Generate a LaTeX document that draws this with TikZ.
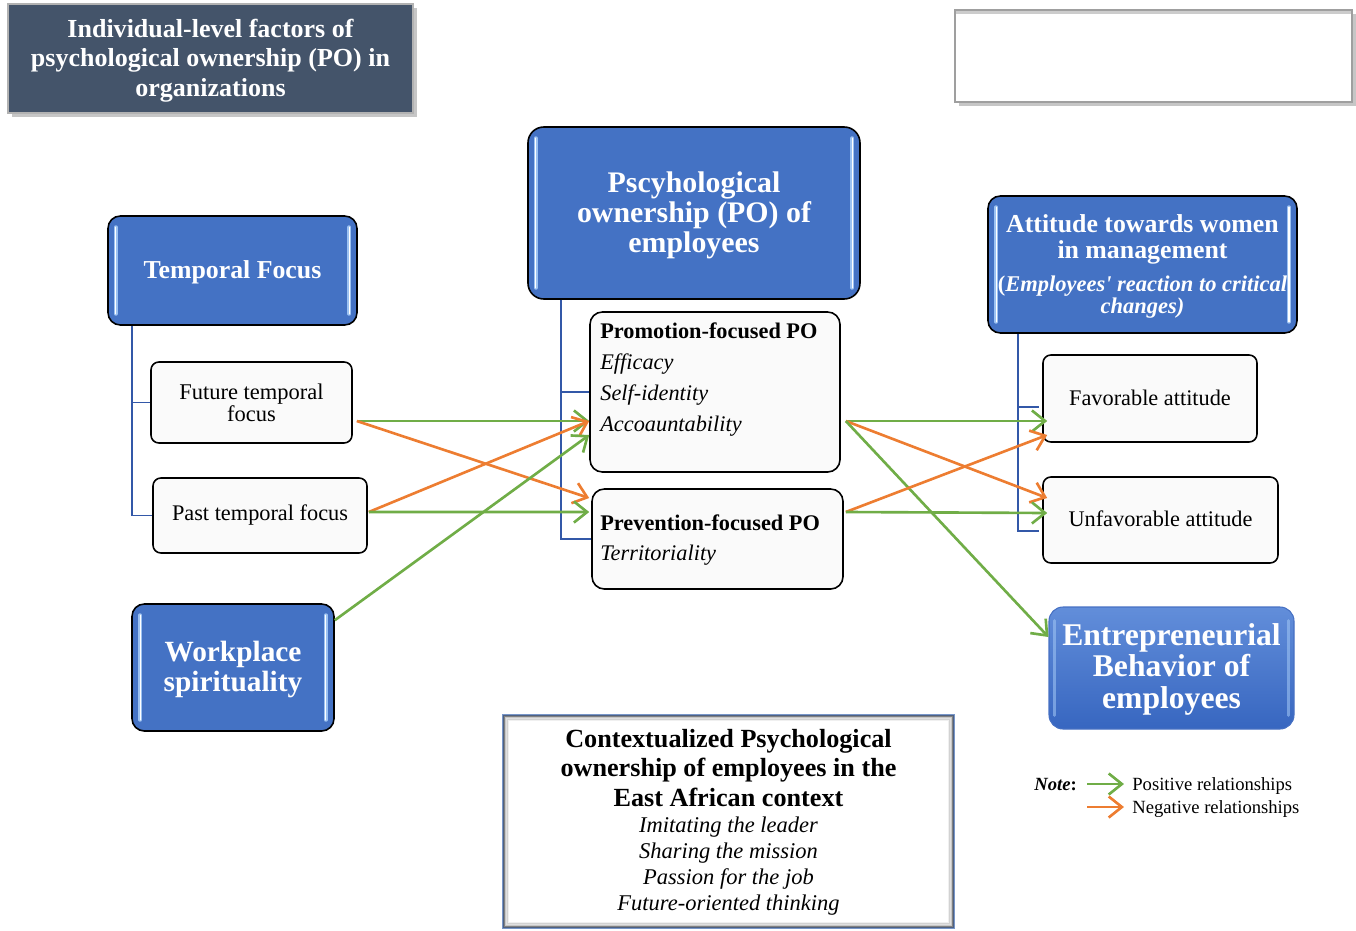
\documentclass[tikz,border=0pt]{standalone}
\usepackage{fontspec}
\setmainfont{Liberation Serif}
\usetikzlibrary{arrows.meta,shadows,fit,calc}
\definecolor{tblue}{HTML}{4472C4}
\definecolor{tslate}{HTML}{44546A}
\definecolor{tgreen}{HTML}{70AD47}
\definecolor{torange}{HTML}{ED7D31}
\definecolor{tline}{HTML}{3358A8}
\definecolor{hlout}{HTML}{9CC2F2}
\definecolor{offwhite}{HTML}{FAFAFA}
\newcommand\glossy[2]{%
  \draw[hlo] ($(#1.north west)+(#2,12)$) -- ($(#1.south west)+(#2,-12)$);
  \draw[hli] ($(#1.north west)+(#2,12)$) -- ($(#1.south west)+(#2,-12)$);
  \draw[hlo] ($(#1.north east)+(-#2,12)$) -- ($(#1.south east)+(-#2,-12)$);
  \draw[hli] ($(#1.north east)+(-#2,12)$) -- ($(#1.south east)+(-#2,-12)$);}
\begin{document}
\begin{tikzpicture}[x=0.02cm,y=-0.02cm,
  bluebox/.style={draw=black, line width=0.9pt, fill=tblue, rounded corners=7pt, inner sep=0pt},
  whitebox/.style={draw=black, line width=0.9pt, fill=offwhite, rounded corners=4.5pt, inner sep=0pt},
  hlo/.style={draw=hlout, line width=2.2pt, line cap=round},
  hli/.style={draw=white, line width=0.8pt, line cap=round},
  wtxt/.style={text=white, font=\bfseries, align=center, inner sep=0pt, yshift=-1.2pt},
  btxt/.style={text=black, align=center, inner sep=0pt},
  tree/.style={draw=tline, line width=1.1pt},
  posarr/.style={draw=tgreen, line width=1.5pt, -{Straight Barb[length=7.5pt,width=12pt,line width=1.5pt]}},
  negarr/.style={draw=torange, line width=1.5pt, -{Straight Barb[length=7.5pt,width=12pt,line width=1.5pt]}}]
\useasboundingbox (0,0) rectangle (1356,930);

% title box
\node[fill=tslate, draw=gray!60, line width=0.8pt, inner sep=0pt,
      drop shadow={shadow xshift=2pt, shadow yshift=-2pt, opacity=0.45},
      fit={(8,4) (413,113)}] (title) {};
\node[wtxt, font=\bfseries\fontsize{14.8}{17}\selectfont] (titletxt) at (title.center)
  {Individual-level factors of\\psychological ownership (PO) in\\organizations};

% empty box
\node[fill=white, draw=gray!75, line width=1pt, inner sep=0pt,
      drop shadow={shadow xshift=2pt, shadow yshift=-2pt, opacity=0.45},
      fit={(955,10) (1352,102)}] (empty) {};
\draw[gray!40, line width=1.6pt] ($(empty.north west)+(2,3.5)$) -- ($(empty.north east)+(-2,3.5)$);

% left column
\node[bluebox, fit={(108,216) (357,325)}] (tf) {};
\glossy{tf}{8.5}
\node[wtxt, font=\bfseries\fontsize{14.7}{17}\selectfont] (tftxt) at (tf.center) {Temporal Focus};

\node[whitebox, fit={(151,362) (352,443)}] (fut) {};
\node[btxt, font=\fontsize{12.8}{12.5}\selectfont] (futtxt) at (fut.center) {Future temporal\\focus};

\node[whitebox, fit={(153,478) (367,553)}] (past) {};
\node[btxt, font=\fontsize{12.7}{12.5}\selectfont] (pasttxt) at (past.center) {Past temporal focus};

\node[bluebox, fit={(132,604) (334,731)}] (ws) {};
\glossy{ws}{9}
\node[wtxt, font=\bfseries\fontsize{16.7}{17}\selectfont] (wstxt) at (ws.center) {Workplace\\spirituality};

% middle column
\node[bluebox, rounded corners=9pt, fit={(528,127) (860,299)}] (po) {};
\glossy{po}{8.5}
\node[wtxt, font=\bfseries\fontsize{17}{17}\selectfont] (potxt) at (po.center) {Pscyhological\\ownership (PO) of\\employees};

\node[whitebox, rounded corners=7pt, fit={(590,312) (840,472)}] (prom) {};
\node[anchor=base west, inner sep=0pt, font=\bfseries\fontsize{12.7}{13}\selectfont] (prom1) at (600,338) {Promotion-focused PO};
\node[anchor=base west, inner sep=0pt, font=\itshape\fontsize{12.7}{13}\selectfont] (prom2) at (600,369) {Efficacy};
\node[anchor=base west, inner sep=0pt, font=\itshape\fontsize{12.7}{13}\selectfont] (prom3) at (600,400) {Self-identity};
\node[anchor=base west, inner sep=0pt, font=\itshape\fontsize{12.7}{13}\selectfont] (prom4) at (600,431) {Accoauntability};

\node[whitebox, rounded corners=7pt, fit={(592,489) (843,589)}] (prev) {};
\node[anchor=base west, inner sep=0pt, font=\bfseries\fontsize{12.7}{13}\selectfont] (prev1) at (600,530) {Prevention-focused PO};
\node[anchor=base west, inner sep=0pt, font=\itshape\fontsize{12.7}{13}\selectfont] (prev2) at (600,560) {Territoriality};

% contextualized box
\node[fill=white, draw={rgb,255:red,120;green,150;blue,200}, line width=1pt, inner sep=0pt,
      fit={(503,715) (954,928)}] (ctx) {};
\foreach \i/\o in {1.5/0.35,3/0.22,4.5/0.12,6/0.06}{
  \draw[black, opacity=\o, line width=1.2pt] ($(ctx.north west)+(\i,\i)$) rectangle ($(ctx.south east)+(-\i,-\i)$);}
\node[btxt, font=\bfseries\fontsize{14.9}{17}\selectfont] (ctx1) at (728.5,768) {Contextualized Psychological\\ownership of employees in the\\East African context};
\node[btxt, font=\itshape\fontsize{12.8}{14.7}\selectfont] (ctx2) at (728.5,866) {Imitating the leader\\Sharing the mission\\Passion for the job\\Future-oriented thinking};

% right column
\node[bluebox, fit={(988,196) (1297,333)}] (att) {};
\glossy{att}{9}
\node[wtxt, font=\bfseries\fontsize{14.7}{14.7}\selectfont] (att1) at (1142.5,237) {Attitude towards women\\in management};
\node[wtxt, font=\bfseries\itshape\fontsize{12.8}{12.5}\selectfont] (att2) at (1142.5,295) {{\upshape(}Employees\textquotesingle{} reaction to critical\\changes)};

\node[whitebox, fit={(1043,355) (1257,442)}] (fav) {};
\node[btxt, font=\fontsize{12.7}{12.5}\selectfont] (favtxt) at (1150,398) {Favorable attitude};

\node[whitebox, fit={(1043,477) (1278,563)}] (unf) {};
\node[btxt, font=\fontsize{12.7}{12.5}\selectfont] (unftxt) at (1160.5,519) {Unfavorable attitude};

\node[top color={rgb,255:red,98;green,142;blue,218}, bottom color={rgb,255:red,55;green,102;blue,192},
      draw={rgb,255:red,70;green,112;blue,195}, line width=0.6pt, rounded corners=8pt, inner sep=0pt,
      fit={(1049,607) (1294,729)}] (ent) {};
\draw[draw=hlout, opacity=0.6, line width=1.5pt, line cap=round] ($(ent.north west)+(6,14)$) -- ($(ent.south west)+(6,-14)$);
\draw[draw=hlout, opacity=0.6, line width=1.5pt, line cap=round] ($(ent.north east)+(-6,14)$) -- ($(ent.south east)+(-6,-14)$);
\node[wtxt, font=\bfseries\fontsize{18}{18}\selectfont] (enttxt) at (1171.5,667) {Entrepreneurial\\Behavior of\\employees};

% tree lines
\draw[tree] ($(tf.south west)+(25,0)$) |- (fut.west);
\draw[tree] ($(tf.south west)+(25,0)$) |- (past.west);
\draw[tree] ($(po.south west)+(34,0)$) |- (prom.west);
\draw[tree] ($(po.south west)+(34,0)$) |- (prev.west);
\draw[tree] ($(att.south west)+(31,0)$) |- ($(fav.west)+(-3,8.5)$);
\draw[tree] ($(att.south west)+(31,0)$) |- ($(unf.west)+(-3,11)$);

% arrows
\draw[posarr] ($(fut.east)+(4,18.5)$) -- ($(prom.west)+(0,29)$);
\draw[negarr] ($(fut.east)+(4,18.5)$) -- ($(prev.west)+(-2,-41)$);
\draw[negarr] ($(past.east)+(1,-3.5)$) -- ($(prom.west)+(0,29)$);
\draw[posarr] ($(past.east)+(1,-3.5)$) -- ($(prev.west)+(-2,-27)$);
\draw[posarr] ($(ws.north east)+(0,17)$) -- ($(prom.west)+(0,43)$);
\draw[posarr] ($(prom.east)+(5,29)$) -- ($(fav.west)+(5,22.5)$);
\draw[negarr] ($(prom.east)+(5,29)$) -- ($(unf.west)+(5,-22)$);
\draw[posarr] ($(prom.east)+(5,29)$) -- ($(ent.west)+(0,-31)$);
\draw[negarr] ($(prev.east)+(2,-27)$) -- ($(fav.west)+(5,36.5)$);
\draw[posarr] ($(prev.east)+(2,-27)$) -- ($(unf.west)+(5,-7)$);

% legend
\node[anchor=base west, inner sep=0pt, font=\fontsize{10.6}{11}\selectfont] (note) at (1034,790) {\textbf{\textit{Note}}\textbf{:}};
\coordinate (lg1a) at (1087,784);
\coordinate (lg1b) at (1124,784);
\coordinate (lg2a) at (1087,807);
\coordinate (lg2b) at (1124,807);
\draw[posarr] (lg1a) -- (lg1b);
\draw[negarr] (lg2a) -- (lg2b);
\node[anchor=base west, inner sep=0pt, font=\fontsize{10.6}{11}\selectfont] (lgp) at (1132,790) {Positive relationships};
\node[anchor=base west, inner sep=0pt, font=\fontsize{10.6}{11}\selectfont] (lgn) at (1132,813) {Negative relationships};
\end{tikzpicture}
\end{document}
